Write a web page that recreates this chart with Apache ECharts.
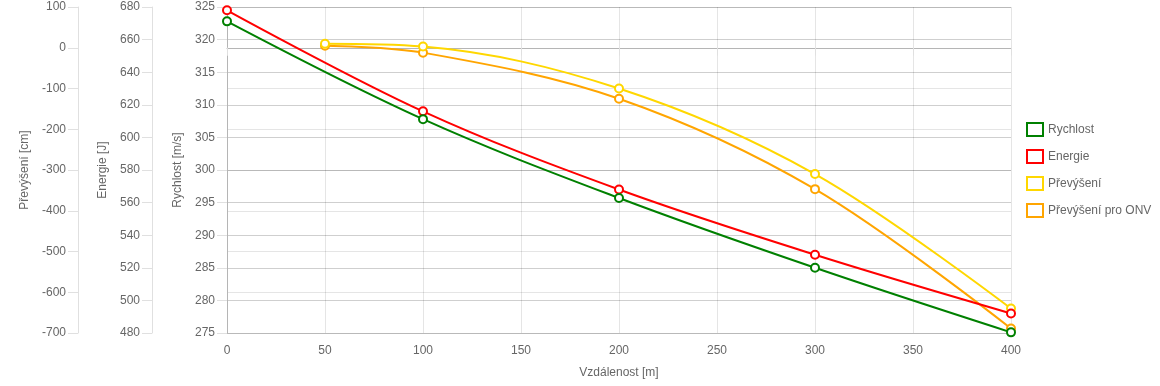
<!DOCTYPE html>
<html><head><meta charset="utf-8">
<script src="https://cdn.jsdelivr.net/npm/echarts@6/dist/echarts.min.js"></script>
<style>html,body{margin:0;padding:0;background:#fff}#c{width:1160px;height:386px}</style>
</head><body><div id="c"></div>
<script>
const distances = [0, 100, 200, 300, 400];
const rychlost = [322.8, 307.8, 295.7, 285.0, 275.1];
const energie = [678, 616, 568, 528, 492];
const prevDist = [50, 100, 200, 300, 400];
const prevyseni = [10, 3, -100, -310, -640];
const prevyseniOnv = [5, -12, -125, -347, -689];
const seriesNames = ['Rychlost', 'Energie', 'Převýšení', 'Převýšení pro ONV'];
const colors = ['#008000', '#ff0000', '#ffd700', '#ffa500'];

const pair = (xs, ys) => xs.map((x, i) => [x, ys[i]]);
const FONT = "'Liberation Sans', Arial, sans-serif";
const LBL = { color: '#666', fontSize: 12, fontFamily: FONT };
const gridLight = 'rgba(0,0,0,0.1)';
const gridDark = 'rgba(0,0,0,0.19)';
const zeroLine = 'rgba(0,0,0,0.25)';

function yAxis(name, min, max, interval, offset, gap, splitColor, axisColor) {
  return {
    type: 'value', name: name, nameLocation: 'middle', nameGap: gap, nameRotate: 90,
    nameTextStyle: LBL, position: 'left', offset: offset,
    min: min, max: max, interval: interval,
    axisLine: { show: true, lineStyle: { color: axisColor || '#e0e0e0', width: 1 } },
    axisTick: { show: true, length: 10, lineStyle: { color: '#e0e0e0' } },
    axisLabel: Object.assign({ margin: 12 }, LBL),
    splitLine: { show: true, lineStyle: { color: splitColor, width: 1 } }
  };
}

const prevSplit = [];
for (let v = -700; v <= 100; v += 100) prevSplit.push(v === 0 ? zeroLine : gridLight);
const xSplit = [];
for (let v = 0; v <= 400; v += 50) xSplit.push(v === 0 ? zeroLine : gridLight);

function lineSeries(i, data, yIdx) {
  return {
    name: seriesNames[i], type: 'line', yAxisIndex: yIdx, data: data,
    smooth: 0.35, symbol: 'circle', symbolSize: 8, z: 10 - i,
    lineStyle: { color: colors[i], width: 2 },
    itemStyle: { color: '#fff', borderColor: colors[i], borderWidth: 2 },
    emphasis: { disabled: true }
  };
}

const chart = echarts.init(document.getElementById('c'), null, { renderer: 'canvas' });
chart.setOption({
  animation: false,
  backgroundColor: '#fff',
  grid: { left: 227, right: 149, top: 7, bottom: 53, containLabel: false },
  legend: {
    orient: 'vertical', left: 1021, top: 117,
    itemWidth: 16, itemHeight: 13, itemGap: 12, icon: 'rect',
    textStyle: LBL,
    data: seriesNames.map((n, i) => ({
      name: n,
      itemStyle: { color: '#fff', borderColor: colors[i], borderWidth: 2 }
    }))
  },
  xAxis: {
    type: 'value', min: 0, max: 400, interval: 50,
    name: 'Vzdálenost [m]', nameLocation: 'middle', nameGap: 34, nameTextStyle: LBL,
    axisLine: { show: true, lineStyle: { color: '#b5b5b5' } },
    axisTick: { show: true, length: 8, lineStyle: { color: '#e0e0e0' } },
    axisLabel: Object.assign({ margin: 12 }, LBL),
    splitLine: { show: true, lineStyle: { color: xSplit } }
  },
  yAxis: [
    yAxis('Rychlost [m/s]', 275, 325, 5, 0, 41, gridDark, '#b5b5b5'),
    yAxis('Energie [J]', 480, 680, 20, 75, 37, 'rgba(0,0,0,0)'),
    yAxis('Převýšení [cm]', -700, 100, 100, 149, 42, prevSplit)
  ],
  series: [
    lineSeries(0, pair(distances, rychlost), 0),
    lineSeries(1, pair(distances, energie), 1),
    lineSeries(2, pair(prevDist, prevyseni), 2),
    lineSeries(3, pair(prevDist, prevyseniOnv), 2)
  ]
});
</script></body></html>
